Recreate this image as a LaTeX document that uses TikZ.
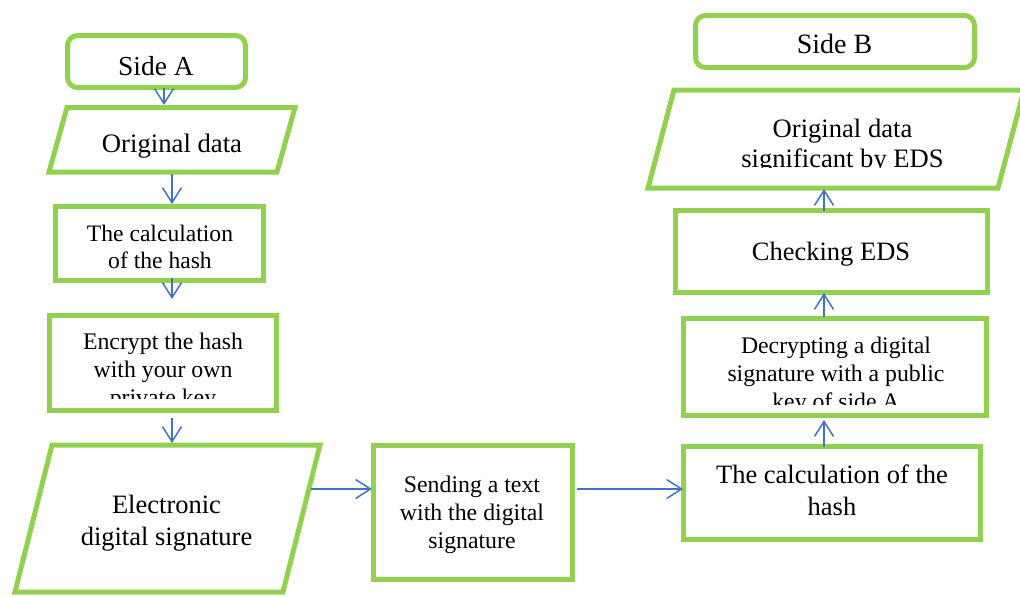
\documentclass[tikz,border=0pt]{standalone}
\usepackage{fontspec}
\setmainfont{Liberation Serif}
\usetikzlibrary{arrows.meta,calc}
\definecolor{gboxc}{HTML}{92D050}
\definecolor{arrc}{HTML}{4472C4}
\newcommand\myfs[2]{\fontsize{#1}{#2}\selectfont}
\newcommand\mylines[1]{\begin{tabular}[t]{@{}c@{}}#1\end{tabular}}
\tikzset{
  gbox/.style={draw=gboxc, line width=5pt, rectangle, inner sep=0pt, outer sep=0pt, fill=white},
  pbody/.style={rectangle, draw=none, inner sep=0pt, outer sep=0pt},
  gline/.style={draw=gboxc, line width=5pt, fill=white},
  roundbox/.style={gbox, rounded corners=10pt},
  arr/.style={draw=arrc, line width=1.5pt, -{Straight Barb[length=15pt,width=19pt,line width=1.5pt]}},
  txt/.style={anchor=base, inner sep=0pt, outer sep=0pt, text=black}
}
\newcommand\paral[2]{\draw[gline] ([xshift=#2/2]#1.north west) -- ([xshift=#2/2]#1.north east) -- ([xshift=-#2/2]#1.south east) -- ([xshift=-#2/2]#1.south west) -- cycle;}
\begin{document}
\begin{tikzpicture}[x=1pt,y=-1pt]
\useasboundingbox (0,0) rectangle (1020,597);
\fill[white] (0,0) rectangle (1020,597);

% ---------- Side A column ----------
\node[roundbox, minimum width=178pt, minimum height=52pt] (sideA) at (156.5,61.5) {};
\node[pbody, minimum width=228pt, minimum height=64.5pt] (odA) at (172,139.75) {};
\paral{odA}{18}
\node[gbox, minimum width=208pt, minimum height=74pt] (calcA) at (159.5,243.5) {};
\node[gbox, minimum width=227pt, minimum height=95pt] (enc) at (163,363) {};
\node[pbody, minimum width=268pt, minimum height=147pt] (esig) at (167.5,518.5) {};
\paral{esig}{37}

% ---------- middle ----------
\node[gbox, minimum width=199pt, minimum height=134pt] (send) at (473,512.5) {};

% ---------- Side B column ----------
\node[roundbox, minimum width=279pt, minimum height=52pt] (sideB) at (835,41.5) {};
\node[pbody, minimum width=350pt, minimum height=98pt] (odB) at (836,139) {};
\paral{odB}{26}
\node[gbox, minimum width=312pt, minimum height=82pt] (chk) at (831.5,251.5) {};
\node[gbox, minimum width=303pt, minimum height=97pt] (dec) at (835,367) {};
\node[gbox, minimum width=297pt, minimum height=93pt] (calcB) at (832,493) {};

% ---------- texts ----------
\node[txt, font=\myfs{27.5}{30}] (tsideA) at (156,75) {Side A};
\node[txt, font=\myfs{26.7}{30}] (todA) at (172,152) {Original data};
\node[txt, font=\myfs{23.6}{27}] (tcalcA) at (160,241) {\mylines{The calculation\\of the hash}};
\begin{scope}
  \clip (40,300) rectangle (290,398);
  \node[txt, font=\myfs{23.8}{28}] (tenc) at (163,349) {\mylines{Encrypt the hash\\with your own\\private key}};
\end{scope}
\node[txt, font=\myfs{26.5}{32}] (tesig) at (166.5,513) {\mylines{Electronic\\digital signature}};
\node[txt, font=\myfs{23.8}{28}] (tsend) at (472,492) {\mylines{Sending a text\\with the digital\\signature}};
\node[txt, font=\myfs{28}{30}] (tsideB) at (834.5,53) {Side B};
\begin{scope}
  \clip (650,95) rectangle (1020,167.5);
  \node[txt, font=\myfs{26.6}{30}] (todB) at (842.5,137) {\mylines{Original data\\significant by EDS}};
\end{scope}
\node[txt, font=\myfs{26.5}{30}] (tchk) at (831,260) {Checking EDS};
\begin{scope}
  \clip (690,320) rectangle (985,404);
  \node[txt, font=\myfs{23.75}{28}] (tdec) at (836,353) {\mylines{Decrypting a digital\\signature with a public\\key of side A}};
\end{scope}
\node[txt, font=\myfs{26.5}{32}] (tcalcB) at (832,483) {\mylines{The calculation of the\\hash}};

% ---------- connectors ----------
\draw[arr] ($(sideA.south)+(7.5,0.5)$) -- ($(odA.north)+(-8,-2.5)$);
\draw[arr] ($(odA.south)+(0,2)$) -- ($(calcA.north)+(12.5,-2.5)$);
\draw[arr] ($(calcA.south)+(12.5,-2.5)$) -- ($(enc.north)+(9,-16.5)$);
\draw[arr] ($(enc.south)+(9,7.5)$) -- ($(esig.north)+(4.5,-2)$);
\draw[arr] ($(esig.center)+(143.5,-29.5)$) -- ($(send.west)+(-1.5,-23.5)$);
\draw[arr] ($(send.east)+(4.5,-23.5)$) -- ($(calcB.west)+(-0.5,-4)$);
\draw[arr] ($(calcB.north)+(-8,0)$) -- ($(dec.south)+(-11,4.5)$);
\draw[arr] ($(dec.north)+(-11,-1.5)$) -- ($(chk.south)+(-7.5,0.5)$);
\draw[arr] ($(chk.north)+(-7.5,0)$) -- ($(odB.south)+(-12,1)$);
\end{tikzpicture}
\end{document}
